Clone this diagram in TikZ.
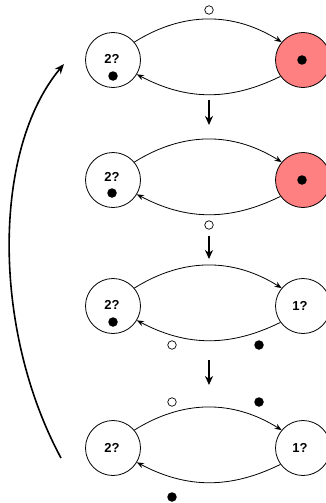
\documentclass[tikz,border=0pt]{standalone}
\usepackage{fontspec}
\setmainfont{Liberation Sans}
\usetikzlibrary{arrows.meta}
\definecolor{salmon}{RGB}{255,128,128}
\tikzset{
  statenode/.style={circle, draw, line width=0.8pt, minimum size=55pt, inner sep=0pt, fill=white},
  hotnode/.style={statenode, fill=salmon},
  lbl/.style={font=\bfseries\fontsize{13}{13}\selectfont, inner sep=0pt},
  tok/.style={circle, fill=black, minimum size=9.5pt, inner sep=0pt},
  otok/.style={circle, draw, line width=0.7pt, fill=white, minimum size=8.5pt, inner sep=0pt},
  arc/.style={line width=0.8pt, -{Stealth[length=7pt,width=5.5pt]}},
  stepdown/.style={line width=1.8pt, -{Stealth[length=9pt,width=8pt]}},
  back/.style={line width=1.6pt, -{Stealth[length=10pt,width=8pt]}}
}
\begin{document}
\begin{tikzpicture}[x=1pt,y=-1pt]
\useasboundingbox (0,0) rectangle (326,503);
% row 1
\node[statenode] (a1) at (113,60) {};
\node[hotnode] (b1) at (303,60) {};
\node[lbl] (t1) at (112,59) {2?};
\node[tok] (d1) at (113,76) {};
\node[tok] (e1) at (302,60) {};
\draw[arc] (a1.40) to[bend left=32] (b1.140);
\draw[arc] (b1.216) to[bend left=27] (a1.-31);
\node[otok] (o1) at (209,10) {};
% row 2
\node[statenode] (a2) at (113,180) {};
\node[hotnode] (b2) at (303,180) {};
\node[lbl] (t2) at (112,177) {2?};
\node[tok] (d2) at (112,193) {};
\node[tok] (e2) at (302,180) {};
\draw[arc] (a2.40) to[bend left=32] (b2.140);
\draw[arc] (b2.216) to[bend left=27] (a2.-31);
\node[otok] (o2) at (209,225) {};
% row 3
\node[statenode] (a3) at (113,306) {};
\node[statenode] (b3) at (303,306) {};
\node[lbl] (t3) at (112,305) {2?};
\node[lbl] (u3) at (300,306) {1?};
\node[tok] (d3) at (113,322) {};
\draw[arc] (a3.40) to[bend left=32] (b3.140);
\draw[arc] (b3.216) to[bend left=27] (a3.-31);
\node[otok] (o3) at (172,345) {};
\node[tok] (f3) at (259,345) {};
% row 4
\node[statenode] (a4) at (113,448) {};
\node[statenode] (b4) at (303,448) {};
\node[lbl] (t4) at (112,448) {2?};
\node[lbl] (u4) at (300,448) {1?};
\draw[arc] (a4.40) to[bend left=32] (b4.140);
\draw[arc] (b4.216) to[bend left=27] (a4.-31);
\node[otok] (o4) at (172,402) {};
\node[tok] (f4) at (259,402) {};
\node[tok] (g4) at (172,497) {};
% step arrows
\coordinate (s1a) at (209,100); \coordinate (s1b) at (209,125);
\coordinate (s2a) at (209,236); \coordinate (s2b) at (209,259);
\coordinate (s3a) at (209,360); \coordinate (s3b) at (209,385);
\draw[stepdown] (s1a) -- (s1b);
\draw[stepdown] (s2a) -- (s2b);
\draw[stepdown] (s3a) -- (s3b);
% back arrow
\coordinate (r0) at (61,458);
\coordinate (r1) at (64,64);
\draw[back] (r0) .. controls (-8,330) and (-8,150) .. (r1);
\end{tikzpicture}
\end{document}
